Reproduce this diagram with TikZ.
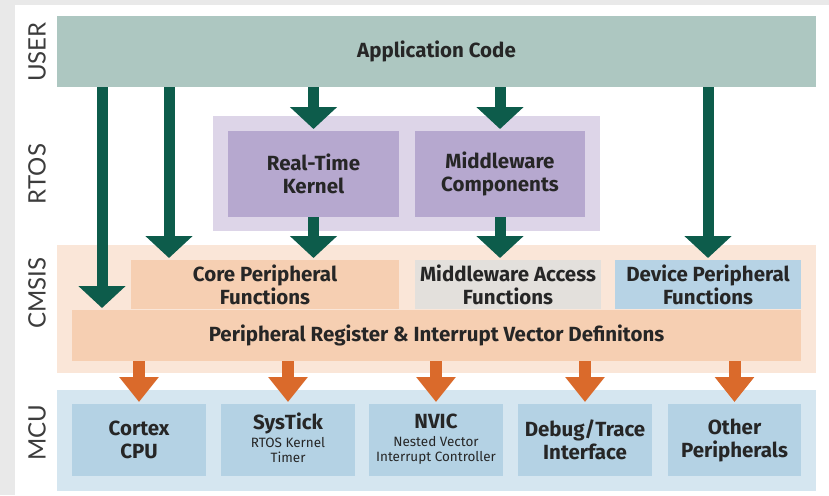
\documentclass[tikz,border=0pt]{standalone}
\usepackage{fontspec}
\setmainfont{Lato}
\newfontfamily\boxfont{Fira Sans}
\usetikzlibrary{arrows.meta,calc}

\definecolor{pagegray}{HTML}{E9E9E9}
\definecolor{userbar}{HTML}{ADC7C1}
\definecolor{rtosback}{HTML}{DDD5E8}
\definecolor{rtosbox}{HTML}{B6A8CF}
\definecolor{cmsisback}{HTML}{FAE6D8}
\definecolor{cmsisbox}{HTML}{F6CFB2}
\definecolor{mwbox}{HTML}{E3E0DC}
\definecolor{devbox}{HTML}{B7D3E5}
\definecolor{mcuback}{HTML}{D5E6F0}
\definecolor{mcubox}{HTML}{B4D2E4}
\definecolor{arrowgreen}{HTML}{0D5C4B}
\definecolor{arroworange}{HTML}{DA6A2B}
\definecolor{ink}{HTML}{262626}

\tikzset{
  area/.style={anchor=north west, inner sep=0pt, outer sep=0pt},
  block/.style={area, align=center, text=ink,
    font=\boxfont\bfseries\fontsize{20.5}{23}\selectfont},
  layer/.style={rotate=90, text=ink!90, font=\fontsize{24}{24}\selectfont},
  greenflow/.style={draw=arrowgreen, line width=11pt,
    -{Triangle[width=46pt,length=22pt]}, shorten >=2pt},
  orangeflow/.style={draw=arroworange, line width=12pt,
    -{Triangle[width=38pt,length=25pt]}, shorten >=2pt}
}

% two small lines set under a bold title
\newcommand{\subtitle}[2]{{\mdseries\fontsize{13.5}{15}\selectfont
  \begin{tabular}[t]{@{}c@{}}#1\\#2\end{tabular}}}

\begin{document}
\begin{tikzpicture}[x=1pt, y=-1pt]
  \useasboundingbox (0,0) rectangle (829,495);
  \fill[pagegray] (0,0) rectangle (829,495);
  \fill[white] (15,5) rectangle (829,495);

  % layer backgrounds
  \node[block, fill=userbar, minimum width=759pt, minimum height=71pt] (app) at (57,16) {Application Code};
  \node[area, fill=rtosback, minimum width=387pt, minimum height=115pt] (rtos) at (213,116) {};
  \node[area, fill=cmsisback, minimum width=759pt, minimum height=128pt] (cmsis) at (57,245) {};
  \node[area, fill=mcuback, minimum width=759pt, minimum height=101pt] (mcu) at (57,390) {};

  % RTOS
  \node[block, fill=rtosbox, minimum width=171pt, minimum height=86pt] (kernel) at (228,131) {Real-Time\\Kernel};
  \node[block, fill=rtosbox, minimum width=170pt, minimum height=86pt] (mwcomp) at (415,131) {Middleware\\Components};

  % CMSIS
  \node[block, fill=cmsisbox, minimum width=268pt, minimum height=49pt] (core) at (131,260) {Core Peripheral\\Functions};
  \node[block, fill=mwbox, minimum width=186pt, minimum height=49pt] (mwacc) at (415,260) {Middleware Access\\Functions};
  \node[block, fill=devbox, minimum width=186pt, minimum height=49pt] (dev) at (615,260) {Device Peripheral\\Functions};
  \node[block, fill=cmsisbox, minimum width=729pt, minimum height=51pt] (preg) at (72,310) {Peripheral Register \& Interrupt Vector Definitons};

  % MCU
  \node[block, fill=mcubox, minimum width=134pt, minimum height=72pt] (cpu) at (72,404) {Cortex\\CPU};
  \node[block, fill=mcubox, minimum width=134pt, minimum height=72pt] (systick) at (221,404)
    {SysTick\\[-5pt]\subtitle{RTOS Kernel}{Timer}};
  \node[block, fill=mcubox, minimum width=134pt, minimum height=72pt] (nvic) at (369,404)
    {NVIC\\[-5pt]\subtitle{Nested Vector}{Interrupt Controller}};
  \node[block, fill=mcubox, minimum width=134pt, minimum height=72pt] (debug) at (518,404) {Debug/Trace\\Interface};
  \node[block, fill=mcubox, minimum width=133pt, minimum height=72pt] (other) at (668,404) {Other\\Peripherals};

  % layer labels
  \node[layer] (luser) at (37,52) {USER};
  \node[layer] (lrtos) at (37,174) {RTOS};
  \node[layer] (lcmsis) at (37,293) {CMSIS};
  \node[layer] (lmcu) at (37,433) {MCU};

  % calls from the application
  \coordinate (direct) at (102,87);
  \coordinate (corecall) at (169,87);
  \draw[greenflow] (direct) -- (direct |- preg.north);
  \draw[greenflow] (corecall) -- (corecall |- core.north);
  \draw[greenflow] (app.south -| kernel) -- (kernel.north);
  \draw[greenflow] (app.south -| mwcomp) -- (mwcomp.north);
  \draw[greenflow] (app.south -| dev) -- (dev.north);
  \draw[greenflow] (kernel.south) -- (kernel.south |- core.north);
  \draw[greenflow] (mwcomp.south) -- (mwcomp.south |- mwacc.north);

  % CMSIS to hardware
  \foreach \hw in {cpu,systick,nvic,debug,other}
    \draw[orangeflow] (preg.south -| \hw) -- (\hw.north);
\end{tikzpicture}
\end{document}
